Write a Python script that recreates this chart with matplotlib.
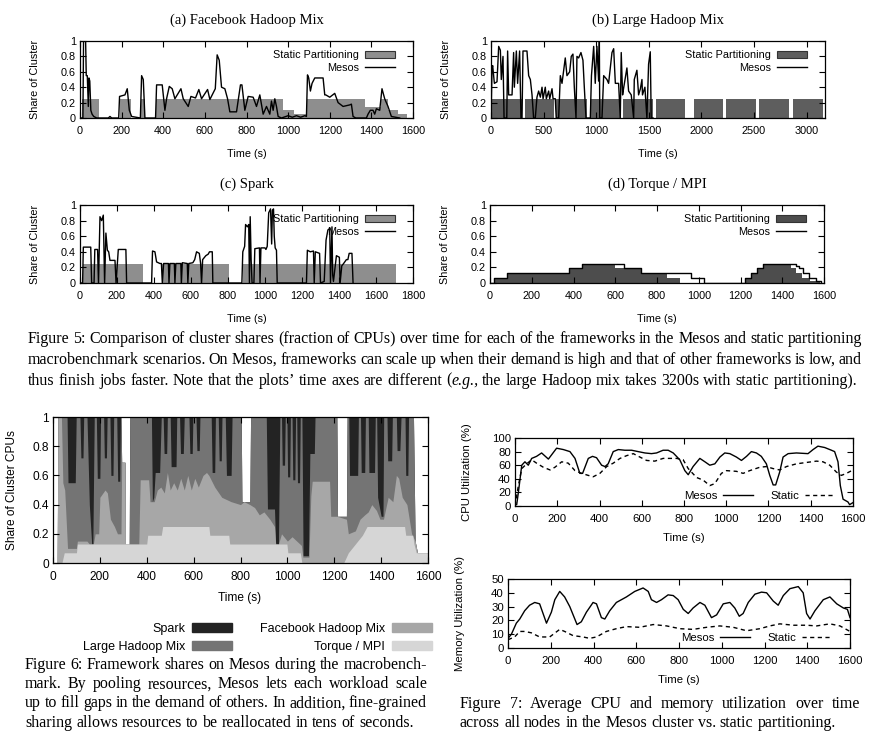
import matplotlib
matplotlib.use("Agg")
import matplotlib.pyplot as plt
from matplotlib.patches import Patch
from matplotlib.lines import Line2D

plt.rcParams['font.family'] = ['Liberation Sans', 'DejaVu Sans']
SERIF = ['Liberation Serif', 'DejaVu Serif']
W, H = 881, 743

# ---------------- Figure 5 data ----------------
# (a) Facebook Hadoop Mix
stat_a_t = [0, 12, 90, 190, 245, 292, 312, 365, 975, 1030, 1090, 1370, 1445, 1480, 1530, 1570]
stat_a_v = [0, 0.25, 0, 0.25, 0, 0.25, 0, 0.25, 0.10, 0.05, 0.25, 0.14, 0.25, 0.10, 0.05, 0]
mes_a_t = [0, 14, 17, 27, 30, 35, 40, 43, 47, 52,
           58, 66, 80, 136, 144, 152, 186, 190, 216, 227,
           237, 248, 290, 296, 304, 312, 363, 368, 395, 408,
           416, 429, 443, 456, 485, 496, 520, 533, 555, 571,
           584, 613, 624, 650, 659, 669, 680, 696, 709, 720,
           752, 771, 778, 792, 808, 832, 848, 864, 880, 896,
           912, 920, 928, 936, 944, 952, 968, 1000, 1020, 1040,
           1060, 1080, 1088, 1093, 1099, 1107, 1115, 1128, 1168, 1176,
           1181, 1200, 1224, 1240, 1264, 1296, 1304, 1312, 1325, 1376,
           1384, 1395, 1408, 1416, 1424, 1440, 1451, 1464, 1480, 1496,
           1536]
mes_a_v = [0, 0, 1.0, 1.0, 0.55, 0.55, 0.15, 0.52, 0.48, 0.10,
           0.05, 0.02, 0, 0, 0.02, 0, 0, 0.28, 0.30, 0.38,
           0.10, 0.02, 0, 0.55, 0.50, 0, 0, 0.43, 0.43, 0.10,
           0.25, 0.41, 0.38, 0.25, 0.38, 0.25, 0.15, 0.28, 0.26, 0.37,
           0.25, 0.37, 0.24, 0.38, 0.82, 0.75, 0.40, 0.38, 0.25, 0.08,
           0.08, 0.43, 0.43, 0.10, 0.28, 0.27, 0.15, 0.30, 0.05, 0.15,
           0.05, 0.22, 0.10, 0.25, 0.15, 0.02, 0, 0.03, 0.01, 0.03,
           0.01, 0.03, 0.02, 0.56, 0.52, 0.35, 0.45, 0.52, 0.52, 0.30,
           0.30, 0.27, 0.32, 0.20, 0.15, 0.17, 0.18, 0.02, 0, 0,
           0.05, 0.10, 0.10, 0.05, 0.12, 0.10, 0.38, 0.25, 0.15, 0.02,
           0]

# (b) Large Hadoop Mix
stat_b_t = [0, 295, 320, 595, 620, 912, 937, 1228, 1254, 1539,
            1570, 1846, 1925, 2203, 2235, 2517, 2548, 2835, 2870, 3155]
stat_b_v = [0.25, 0, 0.25, 0, 0.25, 0, 0.25, 0, 0.25, 0,
            0.25, 0, 0.25, 0, 0.25, 0, 0.25, 0, 0.25, 0]
mes_b_t = [0, 10, 16, 32, 57, 73, 89, 98, 114, 124,
           136, 150, 158, 168, 200, 215, 222, 241, 253, 272,
           285, 295, 304, 342, 358, 374, 390, 405, 421, 437,
           453, 469, 485, 495, 516, 526, 548, 558, 580, 590,
           611, 620, 643, 659, 675, 706, 722, 748, 763, 779,
           792, 808, 817, 833, 855, 874, 887, 903, 944, 955,
           976, 991, 1007, 1023, 1030, 1034, 1055, 1071, 1102, 1118,
           1150, 1166, 1182, 1213, 1229, 1238, 1251, 1261, 1292, 1308,
           1333, 1356, 1362, 1387, 1403, 1420, 1435, 1440, 1463, 1482,
           1498, 1514, 1523, 1540]
mes_b_v = [0, 0.65, 0.68, 0.45, 0.47, 0.93, 0.88, 0.50, 0.80, 0,
           0, 0, 0.87, 0.30, 0.30, 0.85, 0.40, 0.87, 0.45, 0.87,
           0, 0, 0.87, 0.87, 0.55, 0.50, 0.30, 0, 0, 0.27,
           0.35, 0.27, 0.40, 0.25, 0.40, 0.25, 0.35, 0.25, 0.38, 0.25,
           0.25, 0, 0, 0.55, 0.45, 0.78, 0.55, 0.60, 0.80, 0.83,
           0.40, 0, 0.80, 0.78, 0.85, 0.75, 0.40, 0, 0, 0.55,
           0.93, 0.45, 0.93, 0.48, 1.0, 0, 0, 0.55, 0.50, 0.45,
           0.85, 0.90, 0.45, 0.45, 0, 0.85, 0.30, 0.39, 0.65, 0.35,
           0.30, 0, 0.50, 0.62, 0.30, 0.38, 0.50, 0.30, 0.40, 0,
           0.70, 0.86, 0, 0]

# (c) Spark
stat_c_t = [0, 14, 338, 445, 806, 880, 1710]
stat_c_v = [0, 0.25, 0, 0.25, 0, 0.25, 0]
mes_c_t = [0, 14, 18, 58, 63, 76, 80, 95, 100, 108,
           117, 126, 133, 140, 148, 155, 162, 189, 195, 207,
           248, 252, 387, 392, 405, 414, 432, 440, 445, 452,
           478, 481, 486, 510, 513, 518, 545, 548, 553, 580,
           583, 588, 610, 620, 630, 645, 652, 657, 663, 680,
           693, 700, 715, 718, 875, 880, 890, 895, 905, 912,
           916, 920, 925, 930, 940, 945, 970, 973, 978, 1000,
           1005, 1012, 1020, 1030, 1036, 1040, 1046, 1050, 1055, 1062,
           1066, 1224, 1229, 1245, 1262, 1266, 1272, 1295, 1300, 1320,
           1330, 1340, 1350, 1354, 1362, 1366, 1370, 1386, 1402, 1406,
           1415, 1425, 1440, 1448, 1455, 1470, 1476]
mes_c_v = [0, 0, 0.46, 0.46, 0, 0, 0.43, 0.43, 0, 0.85,
           0.80, 0.87, 0, 0.64, 0.42, 0.40, 0.29, 0.29, 0, 0.43,
           0.43, 0, 0, 0.41, 0.40, 0.27, 0.25, 0.25, 0, 0.25,
           0.25, 0, 0.25, 0.25, 0, 0.25, 0.25, 0, 0.26, 0.25,
           0, 0.25, 0.26, 0.30, 0.40, 0.38, 0.25, 0, 0.30, 0.35,
           0.37, 0.40, 0.40, 0, 0, 0.40, 0.47, 0.75, 0.72, 0.75,
           0, 0.85, 0.30, 0, 0, 0.44, 0.45, 0, 0.45, 0.45,
           0.43, 0.47, 0.90, 0.95, 0.50, 0.93, 0.95, 0.60, 0.45, 0.42,
           0, 0, 0.42, 0.40, 0.41, 0, 0.40, 0.38, 0, 0.02,
           0.55, 0.68, 0.70, 0, 0.72, 0.10, 0.02, 0.35, 0.33, 0,
           0.22, 0.25, 0.30, 0.30, 0.38, 0.38, 0]

# (d) Torque / MPI
stat_d_t = [0, 21, 83, 380, 439, 600, 721, 849, 909, 1220, 1249, 1281, 1308, 1440, 1467, 1496, 1531, 1579]
stat_d_v = [0, 0.07, 0.13, 0.19, 0.25, 0.19, 0.13, 0.07, 0, 0.07, 0.13, 0.19, 0.25, 0.19, 0.13, 0.07, 0.03, 0]
mes_d_t = [0, 21, 83, 380, 439, 643, 721, 965, 1024, 1220, 1249, 1281, 1308, 1467, 1480, 1499, 1528, 1563, 1585]
mes_d_v = [0, 0.07, 0.13, 0.19, 0.25, 0.19, 0.13, 0.07, 0, 0.07, 0.13, 0.19, 0.25, 0.22, 0.19, 0.13, 0.07, 0.03, 0]

# ---------------- Figure 6 data (cumulative share levels) ----------------
tot_t = [0, 18, 21, 290, 293, 307, 309, 325, 328, 803, 806, 840, 843, 1211, 1214, 1252, 1255, 1538, 1545, 1555, 1600]
tot_v = [0, 0, 1, 1, 0.69, 0.69, 0, 0, 1, 1, 0.42, 0.42, 1, 1, 0.32, 0.32, 1, 1, 0.15, 0.07, 0.07]
lh_t = [0, 18, 21, 60, 64, 95, 99, 115, 119, 128,
        131, 145, 155, 165, 170, 176, 185, 189, 200, 203,
        216, 219, 228, 231, 243, 247, 256, 259, 272, 276,
        285, 288, 290, 293, 307, 309, 325, 328, 420, 424,
        430, 436, 455, 462, 470, 474, 485, 488, 500, 504,
        525, 528, 540, 544, 556, 560, 580, 584, 594, 597,
        610, 614, 624, 627, 675, 679, 690, 693, 705, 709,
        718, 721, 735, 740, 760, 764, 803, 806, 840, 843,
        910, 915, 945, 950, 962, 968, 975, 978, 988, 991,
        998, 1001, 1010, 1013, 1020, 1023, 1032, 1035, 1040, 1043,
        1052, 1055, 1062, 1067, 1090, 1096, 1115, 1118, 1211, 1214,
        1252, 1255, 1262, 1265, 1300, 1303, 1312, 1315, 1330, 1333,
        1345, 1348, 1372, 1375, 1381, 1385, 1400, 1408, 1411, 1425,
        1428, 1445, 1448, 1465, 1468, 1480, 1485, 1502, 1505, 1514,
        1517, 1538, 1545, 1555, 1600]
lh_v = [0, 0, 1, 1, 0.55, 0.55, 1, 1, 0.72, 0.72,
        1, 1, 0.40, 0.13, 0.13, 1, 1, 0.58, 0.58, 1,
        1, 0.72, 0.72, 1, 1, 0.60, 0.60, 1, 1, 0.56,
        0.56, 1, 1, 0.69, 0.69, 0.13, 0.13, 1, 1, 0.42,
        0.45, 0.62, 0.62, 1, 1, 0.75, 0.75, 1, 1, 0.66,
        0.66, 1, 1, 0.75, 0.75, 1, 1, 0.75, 0.75, 1,
        1, 0.77, 0.77, 1, 1, 0.62, 0.62, 1, 1, 0.70,
        0.70, 1, 1, 0.60, 0.60, 1, 1, 0.42, 0.42, 1,
        1, 0.37, 0.37, 0.13, 0.13, 1, 1, 0.67, 0.67, 1,
        1, 0.59, 0.59, 1, 1, 0.57, 0.57, 1, 1, 0.55,
        0.55, 1, 1, 0.05, 0.05, 0.75, 0.75, 1, 1, 0.32,
        0.32, 1, 1, 0.60, 0.60, 1, 1, 0.62, 0.62, 1,
        1, 0.62, 0.62, 1, 1, 0.45, 0.32, 0.32, 1, 1,
        0.70, 0.70, 1, 1, 0.77, 0.77, 1, 1, 0.60, 0.60,
        1, 1, 0.15, 0.07, 0.07]
fb_t = [0, 18, 21, 36, 42, 50, 62, 100, 104, 145,
        155, 172, 180, 195, 200, 222, 232, 245, 262, 275,
        290, 293, 307, 309, 366, 372, 408, 414, 432, 445,
        460, 475, 488, 500, 515, 530, 545, 560, 575, 590,
        605, 620, 640, 655, 665, 690, 720, 760, 800, 815,
        840, 860, 880, 900, 925, 945, 950, 962, 975, 1000,
        1020, 1060, 1066, 1092, 1100, 1106, 1180, 1185, 1211, 1252,
        1260, 1290, 1310, 1330, 1345, 1360, 1380, 1395, 1410, 1430,
        1450, 1465, 1475, 1490, 1510, 1530, 1545, 1555, 1600]
fb_v = [0, 0, 1.0, 1.0, 0.55, 0.50, 0.10, 0.10, 0.15, 0.15,
        0.13, 0.13, 0.20, 0.20, 0.45, 0.50, 0.48, 0.30, 0.25, 0.20,
        0.20, 0.69, 0.69, 0.13, 0.13, 0.57, 0.57, 0.42, 0.42, 0.50,
        0.52, 0.48, 0.62, 0.50, 0.55, 0.50, 0.58, 0.50, 0.60, 0.50,
        0.58, 0.52, 0.60, 0.62, 0.60, 0.52, 0.45, 0.42, 0.40, 0.42,
        0.40, 0.38, 0.33, 0.35, 0.30, 0.25, 0.13, 0.13, 0.20, 0.15,
        0.18, 0.12, 0.04, 0.04, 0.46, 0.56, 0.56, 0.32, 0.32, 0.30,
        0.20, 0.22, 0.30, 0.33, 0.35, 0.40, 0.36, 0.30, 0.30, 0.45,
        0.42, 0.60, 0.58, 0.45, 0.40, 0.20, 0.15, 0.07, 0.07]
mpi_t = [0, 38, 48, 100, 104, 400, 404, 462, 468, 665, 669, 750, 754, 998,
         1002, 1055, 1062, 1240, 1260, 1290, 1320, 1340, 1500, 1505, 1535, 1540, 1550, 1600]
mpi_v = [0, 0, 0.07, 0.07, 0.13, 0.13, 0.19, 0.19, 0.25, 0.25, 0.19, 0.19, 0.13, 0.13,
         0.07, 0.07, 0, 0, 0.07, 0.13, 0.19, 0.25, 0.25, 0.19, 0.19, 0.13, 0.07, 0.07]
fw_names = ['Spark', 'Large Hadoop Mix', 'Facebook Hadoop Mix', 'Torque / MPI']

# ---------------- Figure 7 data ----------------
cpu_t = [0, 8, 16, 32, 47, 63, 79, 102, 126, 158,
         197, 229, 260, 284, 307, 320, 347, 367, 386, 410,
         426, 441, 465, 489, 520, 552, 583, 615, 646, 670,
         701, 725, 749, 780, 804, 820, 843, 875, 899, 922,
         946, 970, 993, 1017, 1048, 1072, 1096, 1119, 1143, 1166,
         1190, 1206, 1222, 1234, 1253, 1269, 1293, 1332, 1387, 1411,
         1434, 1466, 1498, 1513, 1529, 1540, 1553, 1576, 1584, 1600]
cpu_mesos = [2, 2, 20, 60, 65, 60, 70, 73, 78, 69,
             85, 83, 80, 70, 48, 48, 70, 73, 71, 60,
             58, 62, 80, 83, 82, 82, 80, 78, 77, 78,
             82, 82, 78, 68, 52, 46, 58, 70, 65, 60,
             62, 72, 78, 77, 72, 67, 73, 80, 78, 73,
             62, 45, 31, 31, 50, 72, 77, 78, 77, 83,
             88, 86, 82, 80, 65, 30, 10, 6, 2, 5]
cpus_t = [0, 16, 32, 55, 79, 102, 134, 166, 189, 221,
          252, 284, 315, 347, 370, 402, 434, 465, 497, 528,
          560, 591, 623, 662, 701, 765, 796, 820, 859, 891,
          922, 946, 977, 1001, 1048, 1080, 1111, 1159, 1190, 1222,
          1253, 1285, 1332, 1379, 1427, 1458, 1490, 1521, 1545, 1569, 1600]
cpu_static = [0, 30, 55, 62, 68, 63, 57, 53, 57, 65,
              63, 52, 48, 45, 43, 48, 58, 63, 70, 74,
              77, 72, 67, 66, 70, 70, 68, 55, 42, 38,
              30, 33, 48, 52, 51, 48, 52, 57, 58, 55,
              53, 58, 62, 64, 66, 65, 60, 50, 45, 48, 53]
mem_t = [0, 16, 39, 55, 78, 101, 125, 148, 180, 203,
         219, 242, 265, 289, 323, 343, 367, 398, 414, 437,
         453, 476, 507, 554, 593, 632, 656, 671, 695, 718,
         749, 773, 796, 820, 843, 866, 898, 921, 952, 976,
         1007, 1038, 1061, 1082, 1100, 1124, 1155, 1186, 1210, 1241,
         1264, 1288, 1319, 1358, 1381, 1397, 1413, 1436, 1475, 1506,
         1538, 1569, 1588, 1600]
mem_mesos = [7, 10, 18, 21, 27, 31, 33, 32, 18, 26,
             35, 41, 37, 30, 17, 19, 26, 33, 32, 22,
             21, 27, 33, 37, 41, 43.5, 41, 35, 33, 35,
             38.5, 38, 35, 28, 25, 29, 33, 31, 22, 24,
             32, 33, 29, 23, 25, 33, 39, 40.5, 40, 34,
             31, 38, 43, 44.5, 40, 25, 21, 27, 35, 37,
             32, 29, 28, 22]
mems_t = [0, 31, 55, 78, 109, 148, 195, 242, 265, 304,
          351, 382, 414, 460, 507, 554, 617, 679, 742, 804,
          866, 929, 991, 1054, 1116, 1179, 1225, 1272, 1335, 1397,
          1444, 1506, 1553, 1600]
mem_static = [6, 8, 12, 12, 11, 8, 8, 13.5, 12, 9,
              8, 7, 8, 12, 14, 15.5, 15, 17, 16, 14,
              13.5, 15, 16, 15, 12.5, 14, 16, 17.5, 16.5, 16.5,
              16, 17.5, 16, 12]

# captions
cap5 = ["Figure 5: Comparison of cluster shares (fraction of CPUs) over time for each of the frameworks in the Mesos and static partitioning",
        "macrobenchmark scenarios. On Mesos, frameworks can scale up when their demand is high and that of other frameworks is low, and",
        "thus finish jobs faster. Note that the plots\u2019 time axes are different (*e.g.,* the large Hadoop mix takes 3200s with static partitioning)."]
cap6 = ["Figure 6: Framework shares on Mesos during the macrobench-",
        "mark. By pooling resources, Mesos lets each workload scale",
        "up to fill gaps in the demand of others. In addition, fine-grained",
        "sharing allows resources to be reallocated in tens of seconds."]
cap7 = ["Figure 7: Average CPU and memory utilization over time",
        "across all nodes in the Mesos cluster vs. static partitioning."]

TS5, TS6, TS7 = 7.8, 8.6, 8.2

fig = plt.figure(figsize=(W / 100, H / 100), dpi=100)


def box(l, t, r, b):
    return [l / W, 1 - b / H, (r - l) / W, (b - t) / H]


def ftext(x, y, s, **kw):
    return fig.text(x / W, 1 - y / H, s, **kw)


def style_axes(ax, size):
    ax.tick_params(direction='in', length=4, width=0.8, labelsize=size,
                   top=True, right=True, pad=3)
    ax.tick_params(axis='x', pad=6)
    for sp in ax.spines.values():
        sp.set_linewidth(0.9)


def share_panel(rect, st_t, st_v, st_col, me_t, me_v, xmax, xticks, title, steps=False):
    ax = fig.add_axes(box(*rect))
    ax.fill_between(st_t, 0, st_v, step='post', color=st_col, lw=0)
    ax.plot(me_t, me_v, color='black', lw=1.0,
            drawstyle='steps-post' if steps else 'default')
    ax.set_xlim(0, xmax)
    ax.set_ylim(0, 1)
    ax.set_xticks(xticks)
    ax.set_yticks([0, 0.2, 0.4, 0.6, 0.8, 1])
    ax.set_yticklabels(['0', '0.2', '0.4', '0.6', '0.8', '1'])
    style_axes(ax, TS5)
    l, t, r, b = rect
    ftext((l + r) / 2, t - 21, title, family=SERIF, fontsize=10.5, ha='center', va='center')
    ftext((l + r) / 2, b + 36, 'Time (s)', fontsize=TS5, ha='center', va='center')
    ftext(l - 45, (t + b) / 2, 'Share of Cluster', fontsize=TS5, rotation=90, ha='center', va='center')
    hs = [Patch(facecolor=st_col, edgecolor='#333333', lw=0.8),
          Line2D([], [], color='black', lw=1.0)]
    ax.legend(hs, ['Static Partitioning', 'Mesos'], loc='upper right', frameon=False,
              markerfirst=False, fontsize=TS5, handlelength=2.7, handleheight=0.7,
              handletextpad=0.6, labelspacing=0.22, borderpad=0,
              bbox_to_anchor=(1 - 13 / (r - l), 1 - 4 / (b - t)))
    return ax


share_panel((80, 41, 413, 118), stat_a_t, stat_a_v, '#8e8e8e', mes_a_t, mes_a_v,
            1600, range(0, 1601, 200), '(a) Facebook Hadoop Mix')
share_panel((491, 41, 825, 118), stat_b_t, stat_b_v, '#5e5e5e', mes_b_t, mes_b_v,
            3175, range(0, 3001, 500), '(b) Large Hadoop Mix')
share_panel((80, 205, 413, 283), stat_c_t, stat_c_v, '#8e8e8e', mes_c_t, mes_c_v,
            1800, range(0, 1801, 200), '(c) Spark')
share_panel((490, 205, 824, 283), stat_d_t, stat_d_v, '#4d4d4d', mes_d_t, mes_d_v,
            1600, range(0, 1601, 200), '(d) Torque / MPI', steps=True)

# ---------------- Figure 6 ----------------
C6 = ['#232323', '#747474', '#a7a7a7', '#d6d6d6']
ax6 = fig.add_axes(box(53, 417, 428, 563))
ax6.fill_between(tot_t, 0, tot_v, color=C6[0], lw=0)
ax6.fill_between(lh_t, 0, lh_v, color=C6[1], lw=0)
ax6.fill_between(fb_t, 0, fb_v, color=C6[2], lw=0)
ax6.fill_between(mpi_t, 0, mpi_v, color=C6[3], lw=0)
ax6.set_xlim(0, 1600)
ax6.set_ylim(0, 1)
ax6.set_xticks(range(0, 1601, 200))
ax6.set_yticks([0, 0.2, 0.4, 0.6, 0.8, 1])
ax6.set_yticklabels(['0', '0.2', '0.4', '0.6', '0.8', '1'])
style_axes(ax6, TS6)
ftext(240, 598, 'Time (s)', fontsize=TS6, ha='center', va='center')
ftext(12, 490, 'Share of Cluster CPUs', fontsize=TS6, rotation=90, ha='center', va='center')
fig.legend([Patch(color=c) for c in C6], fw_names, ncol=2, markerfirst=False,
           loc='upper right', bbox_to_anchor=(438 / W, 1 - 617 / H), frameon=False,
           fontsize=9, handlelength=3.2, handleheight=0.75, handletextpad=0.55,
           labelspacing=0.45, columnspacing=2.2, borderpad=0)


# ---------------- Figure 7 ----------------
def util_panel(rect, t1, v1, t2, v2, ymax, ystep, ylabel, legend_y):
    ax = fig.add_axes(box(*rect))
    ax.plot(t1, v1, color='black', lw=1.0)
    ax.plot(t2, v2, color='black', lw=1.0, dashes=(3, 2.5))
    ax.set_xlim(0, 1600)
    ax.set_ylim(0, ymax)
    ax.set_xticks(range(0, 1601, 200))
    ax.set_yticks(range(0, ymax + 1, ystep))
    style_axes(ax, TS7)
    l, t, r, b = rect
    ftext((l + r) / 2, b + 32, 'Time (s)', fontsize=TS7, ha='center', va='center')
    ftext(l - 48, (t + b) / 2, ylabel, fontsize=TS7, rotation=90, ha='center', va='center')
    hs = [Line2D([], [], color='black', lw=1.0), Line2D([], [], color='black', lw=1.0, dashes=(3, 2.5))]
    ax.legend(hs, ['Mesos', 'Static'], ncol=2, markerfirst=False, frameon=False,
              loc='lower right', fontsize=TS7, handlelength=2.6, handletextpad=0.5,
              columnspacing=1.5, borderpad=0,
              bbox_to_anchor=(1 - 13 / (r - l), (b - legend_y) / (b - t)))
    return ax


util_panel((515, 438, 853, 506), cpu_t, cpu_mesos, cpus_t, cpu_static, 100, 20,
           'CPU Utilization (%)', 507)
util_panel((508, 579, 850, 648), mem_t, mem_mesos, mems_t, mem_static, 50, 10,
           'Memory Utilization (%)', 649)

# ---------------- captions (justified) ----------------
renderer = fig.canvas.get_renderer()


def split_words(line):
    words = []
    for w in line.split():
        words.append([(s, 'italic' if k % 2 else 'normal')
                      for k, s in enumerate(w.split('*')) if s])
    return words


def word_widths(words, size):
    out = []
    for segs in words:
        ws = []
        for s, st in segs:
            tt = fig.text(0, 0, s, fontsize=size, family=SERIF, style=st)
            ws.append(tt.get_window_extent(renderer).width)
            tt.remove()
        out.append(ws)
    return out


def natural_width(line, size):
    words = split_words(line)
    ws = word_widths(words, size)
    return sum(sum(w) for w in ws) + 0.25 * size * 100 / 72 * (len(words) - 1)


# body font size: the last line of Fig. 5 runs from x=28 to x=862
CAP = 10 * (862 - 28) / natural_width(cap5[2], 10)


def caption(lines, x0, x1, y0, dy, size):
    em = size * 100 / 72
    for i, line in enumerate(lines):
        words = split_words(line)
        widths = word_widths(words, size)
        total = sum(sum(ws) for ws in widths)
        if i == len(lines) - 1:
            gap = 0.25 * em
        else:
            gap = (x1 - x0 - total) / (len(words) - 1)
        x = x0
        y = y0 + i * dy
        for segs, ws in zip(words, widths):
            for (s, st), w in zip(segs, ws):
                ftext(x, y, s, fontsize=size, family=SERIF, style=st, va='baseline')
                x += w
            x += gap


caption(cap5, 28, 862, 343, 20.8, CAP)
caption(cap6, 25, 427, 669, 19.2, CAP)
caption(cap7, 460, 860, 708, 19, CAP)

fig.savefig('out.png', dpi=100)
